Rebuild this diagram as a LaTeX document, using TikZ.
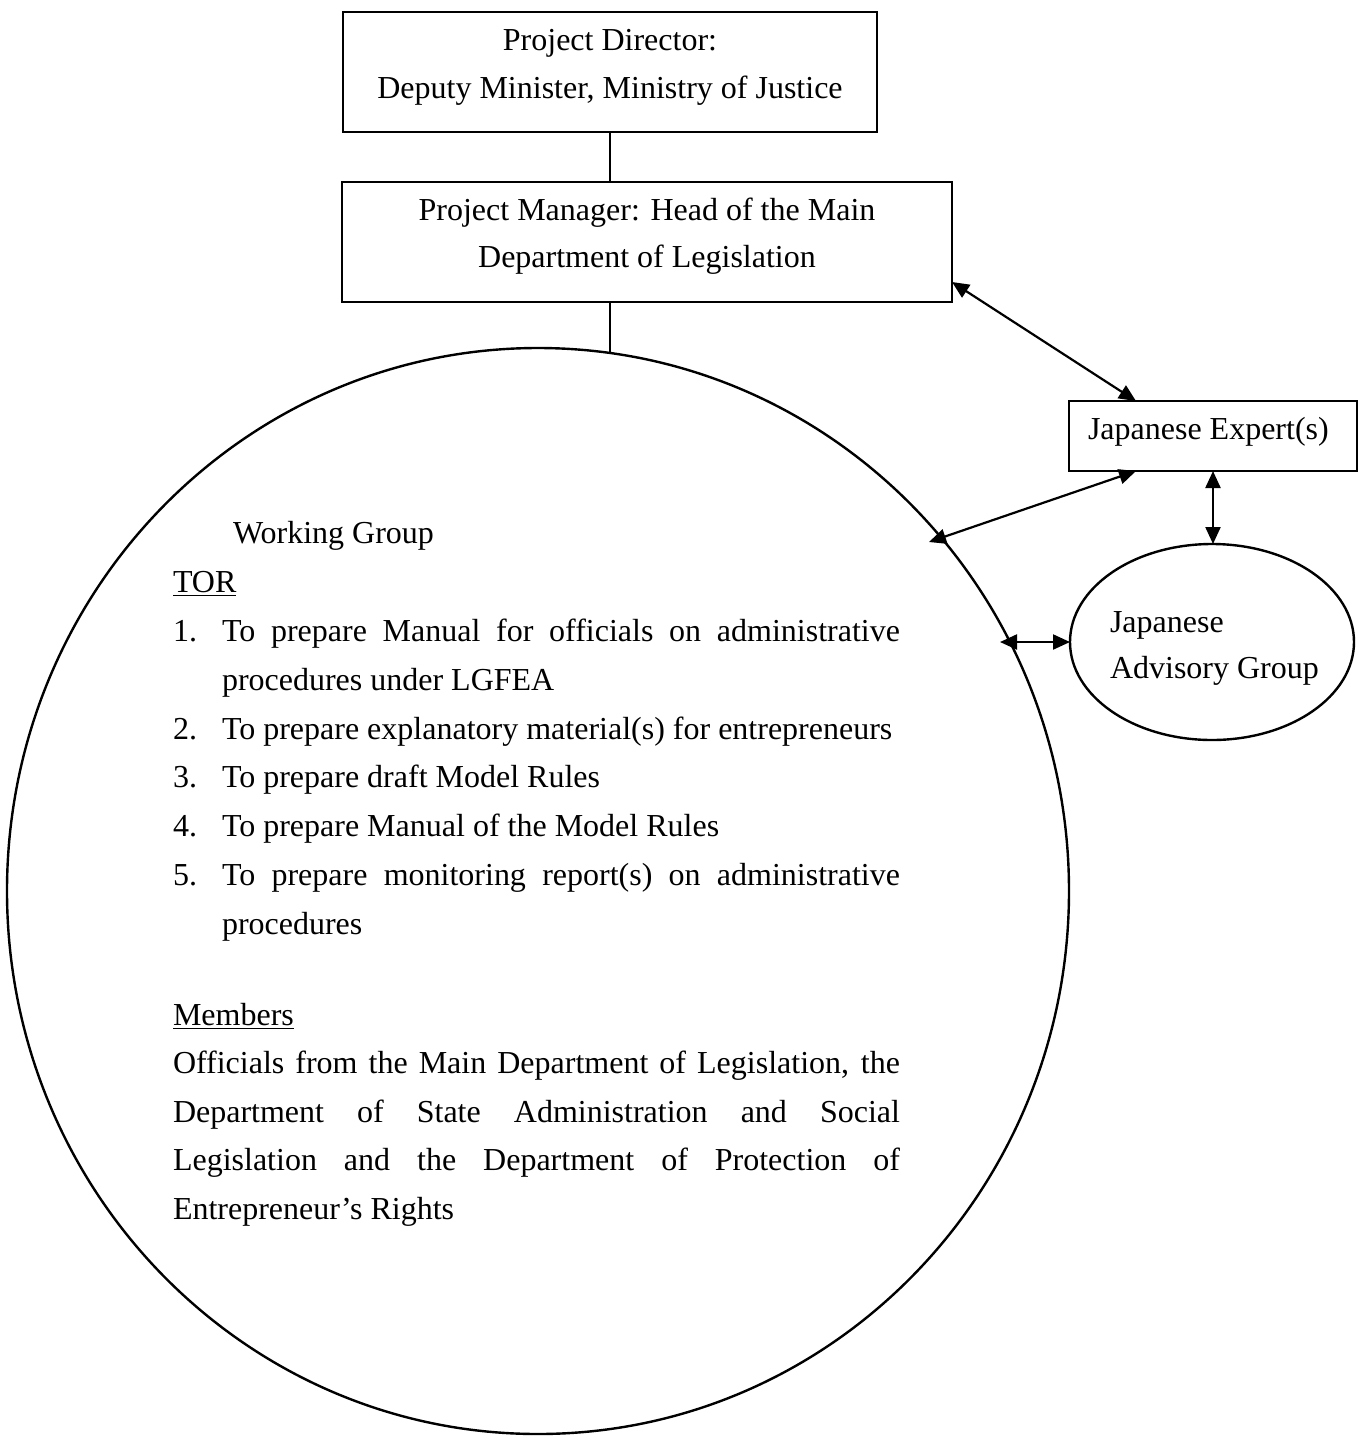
\documentclass[tikz,border=0pt]{standalone}
\usepackage{fontspec}
\setmainfont{Liberation Serif}
\usetikzlibrary{arrows.meta,calc,shapes.geometric}
\begin{document}
\begin{tikzpicture}[x=0.5pt,y=-0.5pt,
  txt/.style={font=\fontsize{16}{24}\selectfont, inner sep=0pt, outer sep=0pt, anchor=base west},
  ctxt/.style={font=\fontsize{16}{24}\selectfont, inner sep=0pt, outer sep=0pt, anchor=base},
  boxshape/.style={draw, line width=1.2pt, rectangle, inner sep=0pt, outer sep=0pt},
  ellshape/.style={draw, line width=1.2pt, ellipse, inner sep=0pt, outer sep=0pt},
  link/.style={line width=1pt},
  biarrow/.style={line width=1.1pt, >={Triangle[length=8.5pt,width=7.5pt]}, <->}
]
\useasboundingbox (0,0) rectangle (1366,1437);

% shapes
\node[boxshape, minimum width=267pt, minimum height=60pt] (pd) at (610,72) {};
\node[boxshape, minimum width=305pt, minimum height=60pt] (pm) at (647,242) {};
\node[boxshape, minimum width=144pt, minimum height=35pt] (je) at (1213,436) {};
\node[ellshape, minimum width=142pt, minimum height=98pt] (ag) at (1212,642) {};
\node[ellshape, minimum width=531pt, minimum height=543pt] (wg) at (538,891) {};

% box texts
\node[ctxt] (pd1) at (610,50) {Project Director:};
\node[ctxt] (pd2) at (610,98) {Deputy Minister, Ministry of Justice};
\node[ctxt] (pm1) at (647,220) {Project Manager: Head of the Main};
\node[ctxt] (pm2) at (647,267) {Department of Legislation};
\node[txt] (jet) at (1088,439) {Japanese Expert(s)};
\node[txt] (ag1) at (1110,632) {Japanese};
\node[txt] (ag2) at (1110,678) {Advisory Group};

% working group texts
\node[txt] (wgt) at (233,543) {Working Group};
\node[txt] (tor) at (173,592) {\underline{TOR}};
\node[txt] (n1) at (173,641) {1.};
\node[txt] (l1a) at (222,641) {\makebox[339pt][s]{To prepare Manual for officials on administrative}};
\node[txt] (l1b) at (222,690) {procedures under LGFEA};
\node[txt] (n2) at (173,739) {2.};
\node[txt] (l2) at (222,739) {To prepare explanatory material(s) for entrepreneurs};
\node[txt] (n3) at (173,787) {3.};
\node[txt] (l3) at (222,787) {To prepare draft Model Rules};
\node[txt] (n4) at (173,836) {4.};
\node[txt] (l4) at (222,836) {To prepare Manual of the Model Rules};
\node[txt] (n5) at (173,885) {5.};
\node[txt] (l5a) at (222,885) {\makebox[339pt][s]{To prepare monitoring report(s) on administrative}};
\node[txt] (l5b) at (222,934) {procedures};
\node[txt] (mem) at (173,1025) {\underline{Members}};
\node[txt] (m1) at (173,1073) {\makebox[363.5pt][s]{Officials from the Main Department of Legislation, the}};
\node[txt] (m2) at (173,1122) {\makebox[363.5pt][s]{Department of State Administration and Social}};
\node[txt] (m3) at (173,1170) {\makebox[363.5pt][s]{Legislation and the Department of Protection of}};
\node[txt] (m4) at (173,1219) {Entrepreneur’s Rights};

% connector end points
\coordinate (a1s) at ($(pm.south east)+(0,-20)$);
\coordinate (a1e) at ($(je.north west)+(67,0)$);
\coordinate (a2s) at ($(je.south west)+(67,0)$);
\coordinate (a2e) at ($(wg.center)+(391,-349)$);
\coordinate (a4s) at ($(wg.center)+(462,-249)$);

% plain links
\draw[link] (pd.south) -- (pd.south |- pm.north);
\draw[link] (pd.south |- pm.south) -- (pd.south |- wg.82.4);

% arrows
\draw[biarrow] (a1s) -- (a1e);
\draw[biarrow] (a2s) -- (a2e);
\draw[biarrow] (je.south) -- (je.south |- ag.north);
\draw[biarrow] (a4s) -- (ag.west);
\end{tikzpicture}
\end{document}
